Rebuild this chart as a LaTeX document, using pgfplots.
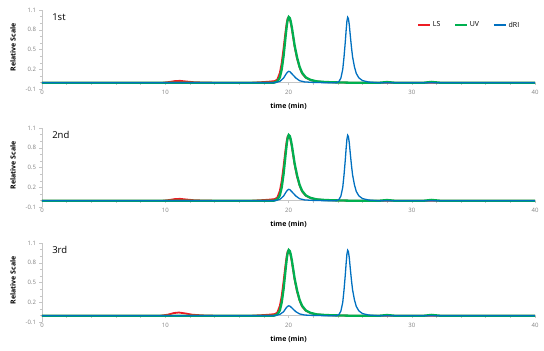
\documentclass[border=0pt]{standalone}
\usepackage{fontspec}
\setmainfont{Open Sans}
\usepackage{pgfplots}
\pgfplotsset{compat=1.18}
\usepackage{pgfplotstable}

\definecolor{cLS}{RGB}{237,28,36}
\definecolor{cUV}{RGB}{0,176,80}
\definecolor{cRI}{RGB}{0,112,192}

\pgfplotstableread{
x y
0 0
9.8 0
10.3 0.01
10.8 0.025
11.2 0.028
11.7 0.018
12.3 0.008
13 0.003
14 0
17 0
17.8 0.008
18.4 0.015
18.9 0.025
19.1 0.05
19.3 0.15
19.45 0.3
19.6 0.52
19.7 0.68
19.8 0.83
19.87 0.92
19.93 0.97
20.0 0.99
20.07 0.975
20.15 0.93
20.25 0.84
20.35 0.72
20.5 0.54
20.7 0.36
20.9 0.23
21.1 0.14
21.4 0.075
21.8 0.038
22.3 0.018
23 0.008
24 0.003
25 0
40 0
}\LSa

\pgfplotstableread{
x y
0 0
9.6 0
10.2 0.015
10.7 0.04
11.1 0.048
11.6 0.035
12.2 0.015
13 0.005
14 0
17 0
17.8 0.008
18.4 0.015
18.9 0.025
19.1 0.05
19.3 0.15
19.45 0.3
19.6 0.52
19.7 0.68
19.8 0.83
19.87 0.92
19.93 0.97
20.0 0.99
20.07 0.975
20.15 0.93
20.25 0.84
20.35 0.72
20.5 0.54
20.7 0.36
20.9 0.23
21.1 0.14
21.4 0.075
21.8 0.038
22.3 0.018
23 0.008
24 0.003
25 0
40 0
}\LSc

\pgfplotstableread{
x y
0 0
18.8 0
19.1 0.02
19.3 0.08
19.45 0.2
19.6 0.4
19.7 0.58
19.8 0.76
19.88 0.89
19.95 0.96
20.02 0.995
20.1 0.98
20.18 0.93
20.27 0.84
20.37 0.72
20.5 0.56
20.7 0.38
20.9 0.24
21.1 0.15
21.4 0.08
21.8 0.042
22.3 0.02
23 0.01
24 0.004
25 0
27.4 0
28 0.01
28.6 0
31 0
31.6 0.012
32.3 0
40 0
}\UVa

\pgfplotstableread{
x y
0 0
18.9 0
19.3 0.02
19.6 0.07
19.8 0.13
19.92 0.16
20.02 0.172
20.12 0.165
20.25 0.14
20.4 0.11
20.6 0.07
20.9 0.03
21.3 0.012
22 0.004
23 0
23.9 0
24.1 0.02
24.25 0.07
24.4 0.2
24.5 0.38
24.6 0.6
24.68 0.8
24.74 0.93
24.8 0.99
24.86 0.97
24.93 0.88
25.0 0.74
25.1 0.55
25.2 0.39
25.35 0.24
25.5 0.14
25.7 0.075
26.0 0.032
26.5 0.01
27.2 0
40 0
}\RIa

\pgfplotstableread{
x y
0 0
18.9 0
19.3 0.02
19.6 0.06
19.8 0.115
19.92 0.14
20.02 0.15
20.12 0.144
20.25 0.122
20.4 0.095
20.6 0.06
20.9 0.027
21.3 0.01
22 0.004
23 0
23.9 0
24.1 0.02
24.25 0.07
24.4 0.2
24.5 0.38
24.6 0.6
24.68 0.8
24.74 0.93
24.8 0.99
24.86 0.97
24.93 0.88
25.0 0.74
25.1 0.55
25.2 0.39
25.35 0.24
25.5 0.14
25.7 0.075
26.0 0.032
26.5 0.01
27.2 0
40 0
}\RIc

\pgfplotsset{chrom/.style={
  scale only axis, width=493pt, height=79.3pt,
  xmin=0, xmax=40, ymin=-0.1, ymax=1.1,
  axis x line=middle, axis y line=left,
  axis line style={draw=gray!45, -, line width=0.6pt},
  hide obscured x ticks=false,
  xtick={0,10,20,30,40}, xticklabels={0,10,20,30,40}, minor x tick num=4,
  ytick={-0.1,0.2,0.5,0.8,1.1}, yticklabels={-0.1,0.2,0.5,0.8,1.1}, minor y tick num=2,
  tick align=outside, major tick length=2.5pt, minor tick length=2pt,
  tick style={draw=gray!45, line width=0.5pt},
  ticklabel style={font=\fontsize{6}{7}\selectfont, text=gray},
  xticklabel style={yshift=-1pt},
  xlabel={\textbf{time (min)}},
  xlabel style={at={([yshift=-16.7pt]axis description cs:0.5,0)}, anchor=center, inner sep=0pt, font=\fontsize{7}{8}\selectfont},
  ylabel={\textbf{Relative Scale}},
  ylabel style={at={([xshift=-29pt]axis description cs:0,0.53)}, anchor=center, inner sep=0pt, font=\fontsize{7}{8}\selectfont},
  clip=false,
  legend style={at={(axis cs:30.2,0.87)}, anchor=west, draw=none, fill=none,
     font=\fontsize{7}{8}\selectfont, legend columns=3,
     /tikz/every even column/.append style={column sep=12pt}},
}}

\begin{document}
\begin{tikzpicture}
\useasboundingbox (-42pt,-261.7pt) rectangle (502pt,89.3pt);
\begin{axis}[chrom, at={(0pt,0pt)}]
  \addplot[color=cLS, line width=1.8pt, forget plot] table {\LSa};
  \addplot[color=cUV, line width=2.3pt, forget plot] table {\UVa};
  \addplot[color=cRI, line width=1.3pt, forget plot] table {\RIa};
  \addlegendimage{legend image code/.code={\draw[color=cLS, line width=1.5pt] (0pt,0pt) -- (12pt,0pt);}}
  \addlegendentry{LS}
  \addlegendimage{legend image code/.code={\draw[color=cUV, line width=1.5pt] (0pt,0pt) -- (12pt,0pt);}}
  \addlegendentry{UV}
  \addlegendimage{legend image code/.code={\draw[color=cRI, line width=1.5pt] (0pt,0pt) -- (12pt,0pt);}}
  \addlegendentry{dRI}
  \node[anchor=west, font=\fontsize{9.5}{10}\selectfont] at (axis cs:0.55,0.99) {1st};
\end{axis}
\begin{axis}[chrom, at={(0pt,-118pt)}]
  \addplot[color=cLS, line width=1.8pt] table {\LSa};
  \addplot[color=cUV, line width=2.3pt] table {\UVa};
  \addplot[color=cRI, line width=1.3pt] table {\RIa};
  \node[anchor=west, font=\fontsize{9.5}{10}\selectfont] at (axis cs:0.55,0.99) {2nd};
\end{axis}
\begin{axis}[chrom, at={(0pt,-233pt)}]
  \addplot[color=cLS, line width=1.8pt] table {\LSc};
  \addplot[color=cUV, line width=2.3pt] table {\UVa};
  \addplot[color=cRI, line width=1.3pt] table {\RIc};
  \node[anchor=west, font=\fontsize{9.5}{10}\selectfont] at (axis cs:0.55,0.99) {3rd};
\end{axis}
\end{tikzpicture}
\end{document}
